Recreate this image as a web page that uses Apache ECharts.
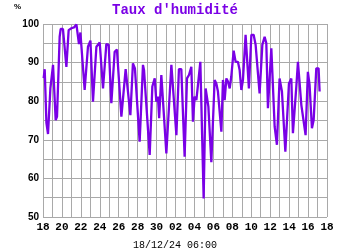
<!DOCTYPE html>
<html><head><meta charset="utf-8">
<script src="https://cdn.jsdelivr.net/npm/echarts@6/dist/echarts.min.js"></script>
<style>html,body{margin:0;padding:0;background:#fff}#c{width:350px;height:250px}</style>
</head><body><div id="c"></div>
<script>
// x in days since 18/11 00:00, y in % humidity
var dayOffsets = [0.07,0.18,0.36,0.53,0.78,0.89,1.06,1.13,1.34,1.48,1.76,1.87,2.11,2.47,2.71,3.00,3.27,3.53,3.70,3.80,3.95,4.16,4.40,4.75,5.01,5.28,5.64,5.81,5.99,6.34,6.69,6.94,7.22,7.57,7.81,8.28,8.73,8.87,9.23,9.50,9.71,10.21,10.56,10.67,11.27,11.55,11.80,11.97,12.14,12.27,12.50,13.03,13.56,13.73,14.09,14.36,14.61,14.96,15.21,15.42,15.67,15.84,16.02,16.20,16.37,16.62,16.97,17.18,17.47,17.78,18.13,18.31,18.48,18.66,18.84,19.01,19.19,19.37,19.54,19.72,19.89,20.14,20.35,20.59,20.77,20.95,21.12,21.40,21.75,22.01,22.25,22.46,22.88,23.17,23.41,23.59,23.76,24.12,24.47,24.71,24.99,25.24,25.60,25.98,26.23,26.40,26.76,26.93,27.29,27.74,27.98,28.16,28.41,28.59,28.87,29.11,29.22];
var humidity = [86,88.3,74.4,71.5,83.3,83.8,89.4,89.8,75.1,76,96.7,98.7,98.7,88.9,98.4,98.9,99.1,99.9,99.7,94.8,97.8,97.6,82.9,94.1,95.7,79.9,94.1,93.7,95.2,83.3,94.8,94.6,79.5,92.8,93.4,76,88.3,88.1,76.4,89.8,88.5,69.5,89.4,88.1,66.1,83.8,85.9,79.9,81.2,75.6,86.8,66.5,89.4,89.8,71.2,88.3,88.3,65.6,85.9,86.8,88.9,74.7,81.2,80.3,84.2,90.2,54.8,83.3,78.6,64.2,85.5,84.6,82.5,82.5,72.1,85.5,80.3,85.9,85.1,83.3,86.4,93.1,90.2,90.2,88.1,82.9,85.5,97.2,83.3,97.2,97.2,94.6,82,94.6,96.7,95,78.2,93.7,73.4,68.7,85.9,82.5,66.9,84.6,85.9,71.7,83.8,90.2,79,71.2,87.6,84.2,73,75.1,88.5,88.5,82.5];
var xTickLabels = ['18','20','22','24','26','28','30','02','04','06','08','10','12','14','16','18'];
var yTickLabels = ['50','60','70','80','90','100'];
var titleText = "Taux d'humidité";
var unitText = '%';
var footerText = '18/12/24 06:00';

var pts = dayOffsets.map(function(d,i){return [d, humidity[i]];});
var chart = echarts.init(document.getElementById('c'), null, {renderer:'canvas'});
var gridColor = '#a9a9a9';
chart.setOption({
  animation:false,
  backgroundColor:'#fff',
  title:[
    {text:titleText, left:'center', top:-2, textStyle:{fontFamily:'Liberation Mono', fontWeight:'bold', fontSize:14, color:'#7a00e6'}},
    {text:unitText, left:9, top:-2, textStyle:{fontFamily:'Liberation Sans', fontWeight:'bold', fontSize:8, color:'#000'}},
    {text:footerText, left:'center', top:235, textStyle:{fontFamily:'Liberation Mono', fontWeight:'normal', fontSize:10, color:'#000'}}
  ],
  grid:{left:43, right:23, top:24, bottom:33},
  xAxis:{type:'value', min:0, max:30, interval:1,
    axisLine:{show:false}, axisTick:{show:false},
    splitLine:{show:true, lineStyle:{color:gridColor, width:1}},
    axisLabel:{margin:5, fontFamily:'Liberation Mono', fontWeight:'bold', fontSize:11, color:'#000',
      showMinLabel:true, showMaxLabel:true,
      formatter:function(v){ v=Math.round(v); return v%2===0 ? xTickLabels[v/2] : ''; }}},
  yAxis:{type:'value', min:50, max:100, interval:5,
    axisLine:{show:false}, axisTick:{show:false},
    splitLine:{show:true, lineStyle:{color:gridColor, width:1}},
    axisLabel:{margin:4, fontFamily:'Liberation Sans', fontWeight:'bold', fontSize:10, color:'#000',
      formatter:function(v){ v=Math.round(v); return v%10===0 ? yTickLabels[(v-50)/10] : ''; }}},
  series:[{type:'line', data:pts, showSymbol:false, smooth:false,
    lineStyle:{color:'#7a00e6', width:2.3}}]
});
</script></body></html>
